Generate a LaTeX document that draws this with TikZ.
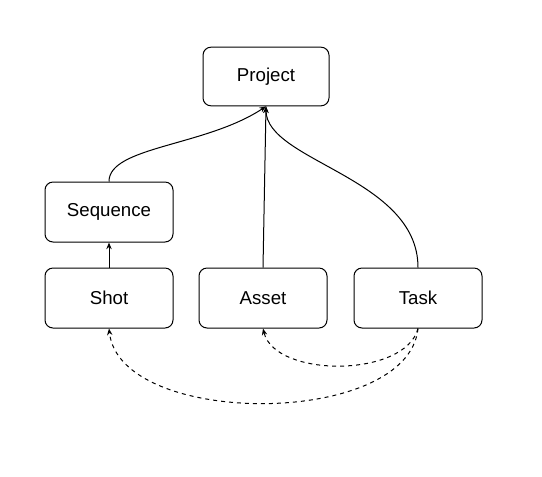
\documentclass[tikz,border=0pt]{standalone}
\usepackage{fontspec}
\setmainfont{Liberation Sans}
\usetikzlibrary{arrows.meta}
\begin{document}
\begin{tikzpicture}[x=0.75pt,y=-0.75pt,
    entity/.style={draw,rounded corners=6pt,minimum width=96pt,minimum height=45pt,line width=0.75pt},
    link/.style={-{Stealth[length=5pt,width=4pt]},line width=0.75pt}]
  \useasboundingbox (0,0) rectangle (542,476);

  \begin{scope}[font=\fontsize{14}{16}\selectfont]
    \node[entity,minimum width=94.5pt,minimum height=44pt] (project) at (266,76.5) {Project};
    \node[entity] (sequence) at (109,212) {Sequence};
    \node[entity] (shot) at (109,298) {Shot};
    \node[entity] (asset) at (263,298) {Asset};
    \node[entity] (task) at (418,298) {Task};
  \end{scope}

  \draw[link] (sequence.north) .. controls +(0,-35) and +(-60,40) .. (project.south);
  \draw[link] (asset.north) -- (project.south);
  \draw[link] (task.north) .. controls +(0,-90) and +(0,55) .. (project.south);
  \draw[link] (shot.north) -- (sequence.south);

  \draw[link,dashed] (task.south) .. controls (408,428) and (120,428) .. (shot.south);
  \draw[link,dashed] (task.south) .. controls (405,378) and (275,378) .. (asset.south);
\end{tikzpicture}
\end{document}
